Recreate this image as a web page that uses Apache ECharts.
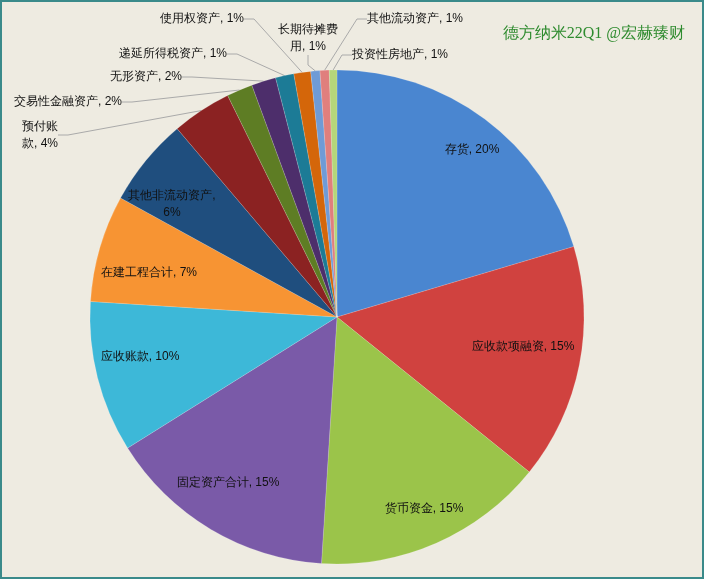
<!DOCTYPE html><html><head><meta charset="utf-8">
<script src="https://cdn.jsdelivr.net/npm/echarts@6/dist/echarts.min.js"></script>
<style>html,body{margin:0;padding:0;background:#eeebe1}#c{width:704px;height:579px;box-sizing:border-box;border:2px solid #3a8a8a}</style>
</head><body><div id="c"></div><script>
const categories=['存货','应收款项融资','货币资金','固定资产合计','应收账款','在建工程合计','其他非流动资产','预付账款','交易性金融资产','无形资产','递延所得税资产','使用权资产','长期待摊费用','其他流动资产','投资性房地产'];
const values=[20.4,15.4,15.2,15.1,9.9,7.0,5.8,3.9,1.7,1.6,1.2,1.1,0.6,0.6,0.5];
const colors=['#4a86d0','#d0423f','#9bc44a','#7a5aa8','#3db8d8','#f79433','#1f4e7e','#8b2222','#5e7d24','#4d2e6b','#1c7b96','#d4660a','#6f9bd6','#e07f7d','#b5d67a'];
const inside=[0,1,2,3,4,5,6];
const labelText={6:'其他非流动资产,\n6%',7:'预付账\n款, 4%',12:'长期待摊费\n用, 1%'};
const pos={0:[470,148],1:[521,345],2:[422,507],3:[226,481],4:[138,355],5:[147,271],6:[170,202],
 7:[38,133],8:[66,100],9:[144,75],10:[171,52],11:[200,17],12:[306,36],13:[413,17],14:[398,53]};
const chart=echarts.init(document.getElementById('c'));
chart.setOption({
 backgroundColor:'#eeebe1',
 title:{text:'德方纳米22Q1 @宏赫臻财',right:12,top:19,textStyle:{color:'#2e8b2e',fontSize:16,fontWeight:'normal',fontFamily:'serif'}},
 series:[{type:'pie',center:[335,315],radius:[0,247],startAngle:90,clockwise:true,animation:false,
  itemStyle:{borderColor:'rgba(255,255,255,0.3)',borderWidth:0.5},
  labelLine:{lineStyle:{color:'#aaa',width:1},length:10,length2:10},
  labelLayout:p=>({x:pos[p.dataIndex][0],y:pos[p.dataIndex][1],align:'center',verticalAlign:'middle'}),
  data:categories.map((n,i)=>({name:n,value:values[i],itemStyle:{color:colors[i]},
   label:{show:true,position:inside.includes(i)?'inside':'outside',color:'#111',fontSize:12,lineHeight:17,align:'center',overflow:'none',
    formatter:()=>labelText[i]||(n+', '+Math.max(1,Math.round(values[i]))+'%')},
   labelLine:{show:!inside.includes(i)}}))
 }]
});
</script></body></html>
